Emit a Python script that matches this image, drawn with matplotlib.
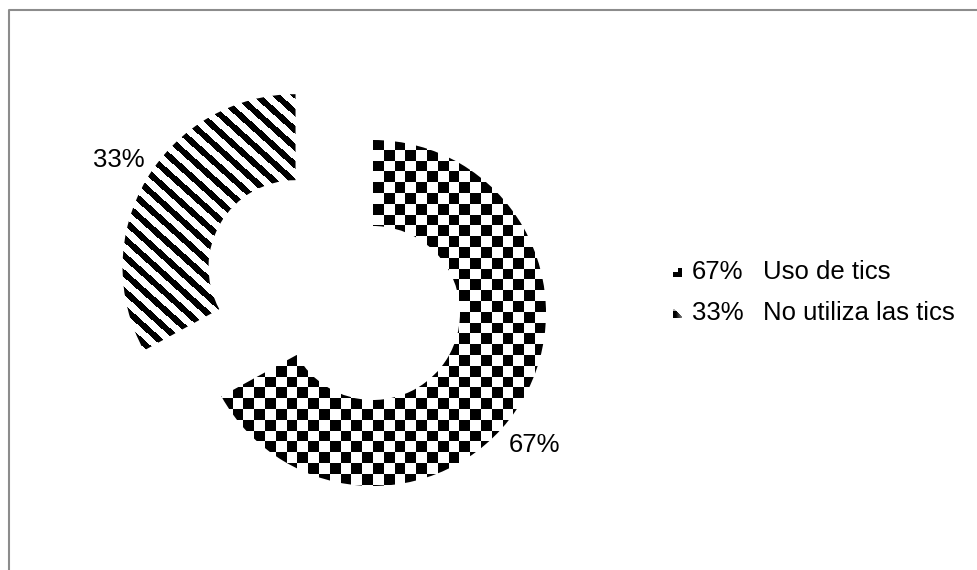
import numpy as np
import matplotlib
matplotlib.use("Agg")
import matplotlib.pyplot as plt

categories = ["Uso de tics", "No utiliza las tics"]
values = [67, 33]
pct_labels = ["67%", "33%"]

W, H = 977, 570
fig = plt.figure(figsize=(W / 100, H / 100), dpi=100)
ax = fig.add_axes([0, 0, 1, 1])
plt.rcParams["font.family"] = ["Liberation Sans", "DejaVu Sans"]

cx, cy = 373, H - 313
R, ring = 173, 86
wedges, _ = ax.pie(values, radius=R, center=(cx, cy), startangle=90,
                   counterclock=False, explode=[0, 90],
                   wedgeprops=dict(width=ring, facecolor="none", edgecolor="none"),
                   frame=True)
ax.set_xlim(0, W)
ax.set_ylim(0, H)
ax.set_aspect("equal")
ax.axis("off")

# pattern fills
yy, xx = np.mgrid[0:H, 0:W] + 0.5  # image coords (y down)
cell = 10.8
checker = ((np.floor((xx - 373) / cell) + np.floor((yy - 139) / cell)) % 2 == 0).astype(float)
alpha = np.deg2rad(42)
p = 13.0
s = -xx * np.sin(alpha) + yy * np.cos(alpha)
stripes = ((s % p) < p * 0.47).astype(float)

for w, pat in zip(wedges, [checker, stripes]):
    im = ax.imshow(1 - pat, extent=(0, W, 0, H), origin="upper", cmap="gray",
                   vmin=0, vmax=1, interpolation="antialiased", zorder=1)
    ax.add_patch(w)
    im.set_clip_path(w)

# percentage labels
fs = 18.5
ax.text(119, H - 160, pct_labels[1], fontsize=fs, ha="center", va="center")
ax.text(535, H - 445, pct_labels[0], fontsize=fs, ha="center", va="center")

# legend icons (small pattern swatches)
gy, gx = np.mgrid[0:9, 0:9]
icon1 = np.ones((9, 9))
icon1[:4, :5] = 0
icon2 = (gx <= gy + 1).astype(float) * np.clip(1.2 - gx / 12.0, 0, 1)
icon2[:2, :] *= 0.3
icons = [icon1, icon2]

leg_y = [272, 313]
for i, (cat, pl) in enumerate(zip(categories, pct_labels)):
    y = leg_y[i]
    ax.imshow(1 - icons[i], extent=(673, 682, H - y - 5, H - y + 4), origin="upper",
              cmap="gray", vmin=0, vmax=1, interpolation="antialiased", zorder=2)
    ax.text(692, H - y, pl, fontsize=fs, ha="left", va="center")
    ax.text(763, H - y, cat, fontsize=fs, ha="left", va="center")

# frame
ax.plot([8.5, 8.5, 980], [-5, H - 9.5, H - 9.5], color="#8c8c8c", lw=1.5,
        clip_on=False, zorder=3)
ax.set_xlim(0, W)
ax.set_ylim(0, H)

fig.savefig("out.png", dpi=100)
